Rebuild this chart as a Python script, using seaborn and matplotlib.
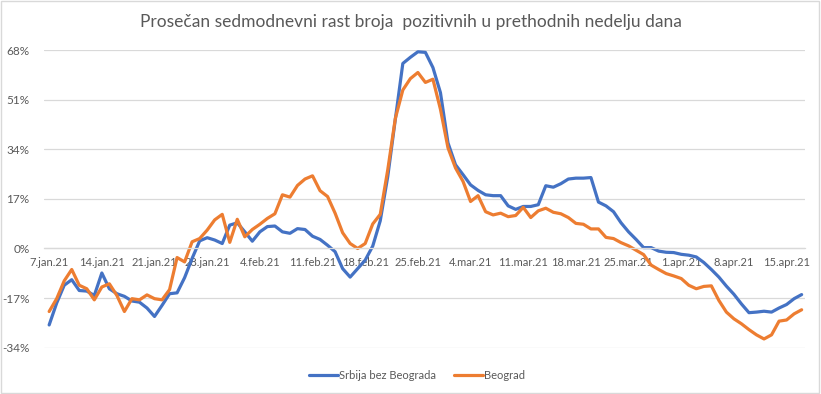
"""Prosečan sedmodnevni rast broja pozitivnih - Srbija bez Beograda vs Beograd"""

import pandas as pd
import numpy as np
import seaborn as sns
import matplotlib.pyplot as plt
from matplotlib.patches import Rectangle

sns.set_style("white")
plt.rcParams['font.family'] = ['Lato', 'DejaVu Sans']

TEXT_COLOR = '#595959'
GRID_COLOR = '#D9D9D9'

# daily values (%) from 7.jan.21 to 17.apr.21
srbija_bez_bg = [
    -26.2, -18.7, -12.6, -10.7, -14.4, -14.6, -16.1, -8.4, -13.8, -15.5,
    -16.4, -18.0, -18.4, -20.4, -23.3, -19.5, -15.5, -15.2, -10.0, -3.4,
    2.6, 3.7, 2.9, 1.7, 8.0, 8.8, 5.7, 2.5, 5.7, 7.5,
    7.7, 5.7, 5.2, 6.8, 6.5, 4.2, 3.1, 1.1, -1.1, -6.9,
    -9.8, -6.9, -4.0, 0.8, 9.5, 24.7, 44.2, 63.4, 65.5, 67.4,
    67.2, 62.0, 53.4, 36.2, 28.7, 25.3, 21.8, 19.9, 18.4, 18.1,
    18.1, 14.6, 13.4, 14.4, 14.4, 15.0, 21.5, 21.0, 22.2, 23.8,
    24.1, 24.1, 24.3, 15.9, 14.6, 12.6, 8.8, 5.7, 3.1, 0.3,
    0.3, -0.9, -1.3, -1.4, -2.0, -2.3, -2.9, -4.8, -7.2, -9.8,
    -12.9, -15.7, -19.0, -22.0, -21.8, -21.5, -21.8, -20.4, -19.2, -17.2,
    -15.8,
]
beograd = [
    -21.6, -17.2, -11.1, -7.2, -12.6, -13.8, -17.6, -13.2, -12.1, -16.1,
    -21.6, -17.2, -17.6, -15.9, -17.2, -17.6, -14.1, -3.1, -4.6, 2.3,
    3.4, 6.3, 9.8, 11.7, 2.1, 10.0, 4.0, 6.5, 8.3, 10.3,
    11.9, 18.4, 17.6, 21.6, 23.8, 24.9, 19.8, 17.8, 12.1, 5.4,
    1.7, 0.0, 1.7, 8.4, 11.7, 27.0, 44.5, 54.3, 58.2, 60.3,
    56.9, 58.0, 47.7, 34.5, 27.6, 23.0, 16.1, 18.1, 12.6, 11.5,
    12.1, 10.9, 11.3, 14.1, 10.6, 12.9, 13.8, 12.4, 11.9, 10.6,
    8.6, 8.3, 6.7, 6.7, 3.8, 3.4, 2.0, 0.9, -0.6, -2.1,
    -5.7, -7.2, -8.6, -9.4, -10.3, -12.6, -13.8, -13.0, -12.8, -17.8,
    -21.8, -24.1, -25.8, -27.8, -29.6, -31.0, -29.6, -24.9, -24.5, -22.4,
    -21.0,
]
dates = pd.date_range("2021-01-07", periods=len(beograd), freq="D")

x_tick_labels = ['7.jan.21', '14.jan.21', '21.jan.21', '28.jan.21', '4.feb.21',
                 '11.feb.21', '18.feb.21', '25.feb.21', '4.mar.21', '11.mar.21',
                 '18.mar.21', '25.mar.21', '1.apr.21', '8.apr.21', '15.apr.21']
y_ticks = [-34, -17, 0, 17, 34, 51, 68]
y_tick_labels = ['-34%', '-17%', '0%', '17%', '34%', '51%', '68%']

series_names = ['Srbija bez Beograda', 'Beograd']
palette = {'Srbija bez Beograda': '#4472C4', 'Beograd': '#ED7D31'}

df = pd.concat([
    pd.DataFrame({'datum': dates, 'rast': srbija_bez_bg, 'serija': series_names[0]}),
    pd.DataFrame({'datum': dates, 'rast': beograd, 'serija': series_names[1]}),
])

fig = plt.figure(figsize=(8.21, 3.94), dpi=100)
ax = fig.add_axes([0.053, 0.1175, 0.928, 0.7555])

sns.lineplot(data=df, x='datum', y='rast', hue='serija', palette=palette,
             hue_order=series_names, linewidth=2.3, ax=ax, legend=True)

ax.set_ylim(-34, 68)
ax.set_xlim(dates[0] - pd.Timedelta(days=0.75), dates[-1] + pd.Timedelta(days=0.5))
ax.set_yticks(y_ticks)
ax.set_yticklabels(y_tick_labels)
ax.set_xticks(dates[::7])
ax.set_xticklabels(x_tick_labels)
ax.set_xlabel('')
ax.set_ylabel('')

ax.grid(axis='y', color=GRID_COLOR, linewidth=0.9)
ax.set_axisbelow(True)
for side in ['top', 'right', 'left']:
    ax.spines[side].set_visible(False)
ax.spines['bottom'].set_position(('data', 0))
ax.spines['bottom'].set_color(GRID_COLOR)
ax.spines['bottom'].set_linewidth(0.9)
ax.tick_params(axis='both', length=0, colors=TEXT_COLOR)
ax.tick_params(axis='x', pad=6, labelsize=8)
ax.tick_params(axis='y', pad=10, labelsize=8.5)

leg = ax.legend(loc='upper center', bbox_to_anchor=(0.49, -0.04), ncol=2,
                frameon=False, fontsize=8, handlelength=2.6, handletextpad=0.1,
                columnspacing=1.6)
for t in leg.get_texts():
    t.set_color(TEXT_COLOR)

fig.text(0.5, 0.944, 'Prosečan sedmodnevni rast broja  pozitivnih u prethodnih nedelju dana',
         ha='center', va='center', fontsize=12.5, color=TEXT_COLOR)

fig.patches.append(Rectangle((0.001, 0.002), 0.997, 0.995, transform=fig.transFigure,
                             fill=False, edgecolor=GRID_COLOR, linewidth=1))

plt.savefig('out.png', dpi=100)
plt.close()
print("Saved: out.png")
